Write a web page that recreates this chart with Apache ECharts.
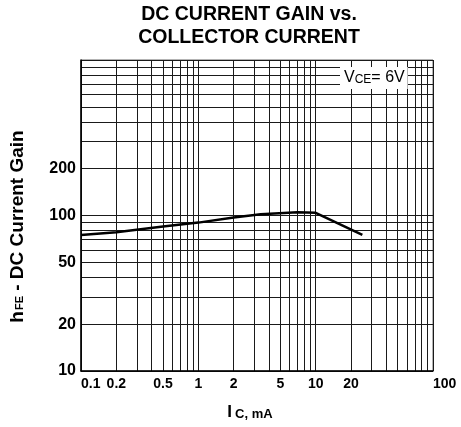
<!DOCTYPE html>
<html>
<head>
<meta charset="utf-8">
<script src="https://cdn.jsdelivr.net/npm/echarts@6/dist/echarts.min.js"></script>
<style>
    html, body { margin: 0; padding: 0; background: #fff; }
    #chart { width: 461px; height: 427px; }
</style>
</head>
<body>
<div id="chart"></div>
<script>
    // curve: collector current (mA) and hFE
    const icValues = [0.1, 0.2, 0.5, 1, 2, 3.4, 7, 10, 25]
    const hfeValues = [75, 78, 85, 90, 97, 102, 105, 104, 75]

    // log grid lines and the labelled ticks
    const xGridValues = [0.1, 0.2, 0.3, 0.4, 0.5, 0.6, 0.7, 0.8, 0.9,
        1, 2, 3, 4, 5, 6, 7, 8, 9, 10, 20, 30, 40, 50, 60, 70, 80, 90, 100]
    const xLabelValues = [0.1, 0.2, 0.5, 1, 2, 5, 10, 20, 100]
    const yGridValues = [10, 20, 30, 40, 50, 60, 70, 80, 90,
        100, 200, 300, 400, 500, 600, 700, 800, 900, 1000]
    const yLabelValues = [10, 20, 50, 100, 200]

    const FONT = 'Liberation Sans, Arial, sans-serif'
    const fmt = v => String(+Number(v).toPrecision(6))

    const chart = echarts.init(document.getElementById('chart'))

    const option = {
        animation: false,
        title: {
            text: 'DC CURRENT GAIN vs.\nCOLLECTOR CURRENT',
            left: 249,
            textAlign: 'center',
            top: 0,
            padding: [3, 0, 0, 0],
            textStyle: {
                fontFamily: FONT,
                fontSize: 19.5,
                fontWeight: 'bold',
                lineHeight: 23,
                color: '#000'
            }
        },
        grid: {
            left: 81,
            right: 28,
            top: 60,
            bottom: 56,
            show: true,
            borderColor: '#666',
            borderWidth: 1
        },
        xAxis: {
            type: 'log',
            logBase: 10,
            min: 0.1,
            max: 100,
            name: '{i|I}{s|C, mA}',
            nameLocation: 'middle',
            nameGap: 33,
            nameTextStyle: {
                padding: [0, 14, 0, 0],
                rich: {
                    i: { fontFamily: FONT, fontSize: 17, fontWeight: 'bold', color: '#000' },
                    s: { fontFamily: FONT, fontSize: 13, fontWeight: 'bold', color: '#000', padding: [3, 0, 0, 3] }
                }
            },
            axisLine: { show: true, onZero: false, lineStyle: { color: '#000', width: 1.5 } },
            axisTick: { show: false, customValues: xGridValues },
            axisLabel: {
                customValues: xLabelValues,
                formatter: fmt,
                fontFamily: FONT,
                fontSize: 14,
                fontWeight: 'bold',
                color: '#000',
                margin: 6,
                alignMinLabel: 'left',
                alignMaxLabel: 'left'
            },
            splitLine: { show: true, lineStyle: { color: '#1a1a1a', width: 1 } }
        },
        yAxis: {
            type: 'log',
            logBase: 10,
            min: 10,
            max: 1000,
            name: '{h|h}{s|FE}{n| - DC Current Gain}',
            nameLocation: 'middle',
            nameRotate: 90,
            nameGap: 54,
            nameTextStyle: {
                padding: [0, 22, 0, 0],
                rich: {
                    h: { fontFamily: FONT, fontSize: 19, fontWeight: 'bold', color: '#000' },
                    s: { fontFamily: FONT, fontSize: 11, fontWeight: 'bold', color: '#000', padding: [4, 0, 0, 1] },
                    n: { fontFamily: FONT, fontSize: 19, fontWeight: 'bold', color: '#000' }
                }
            },
            axisLine: { show: true, lineStyle: { color: '#000', width: 1.5 } },
            axisTick: { show: false, customValues: yGridValues },
            axisLabel: {
                customValues: yLabelValues,
                formatter: fmt,
                fontFamily: FONT,
                fontSize: 16,
                fontWeight: 'bold',
                color: '#000',
                margin: 5
            },
            splitLine: { show: true, lineStyle: { color: '#1a1a1a', width: 1 } }
        },
        graphic: [{
            type: 'text',
            z: 100,
            x: 340,
            y: 67,
            style: {
                text: '{v|V}{s|CE}{v|= 6V}',
                backgroundColor: '#fff',
                padding: [3, 3, 3, 4],
                rich: {
                    v: { fontFamily: FONT, fontSize: 16, color: '#000' },
                    s: { fontFamily: FONT, fontSize: 12, color: '#000', padding: [3, 0, 0, 0] }
                }
            }
        }],
        series: [{
            type: 'line',
            data: icValues.map((v, i) => [v, hfeValues[i]]),
            showSymbol: false,
            lineStyle: { color: '#000', width: 2.5 },
            z: 10
        }]
    }

    chart.setOption(option)
</script>
</body>
</html>
